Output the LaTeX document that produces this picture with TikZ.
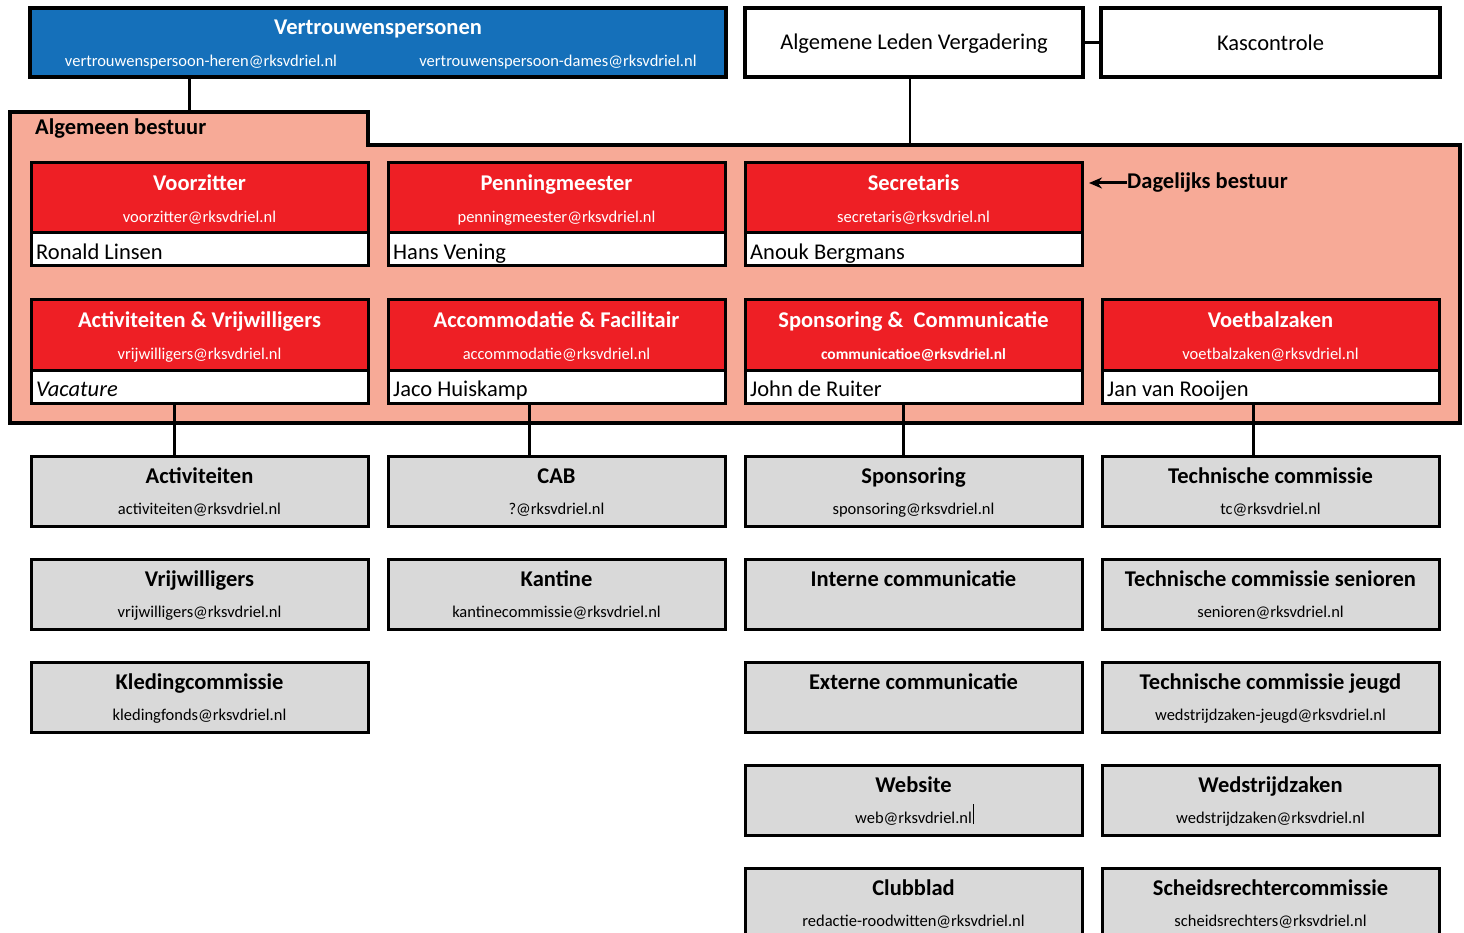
\documentclass[tikz,border=0pt]{standalone}
\usepackage{fontspec}
\setmainfont{Carlito}
\usetikzlibrary{arrows.meta}
\definecolor{vpblue}{HTML}{1570BA}
\definecolor{abred}{HTML}{EE1F25}
\definecolor{absalmon}{HTML}{F7AA97}
\definecolor{cgrey}{HTML}{D9D9D9}
\tikzset{
  box/.style={draw=black, line width=3pt, inner sep=0pt, outer sep=0pt, minimum width=337pt, anchor=north west},
  topbox/.style={draw=black, line width=4pt, inner sep=0pt, outer sep=0pt, anchor=north west, minimum height=69pt},
  redpart/.style={box, fill=abred, minimum height=70pt},
  namepart/.style={box, fill=white, minimum height=33pt},
  greypart/.style={box, fill=cgrey, minimum height=70pt},
  ttl/.style={font=\fontsize{22.5}{26}\selectfont\bfseries, anchor=base, inner sep=0pt},
  mail/.style={font=\fontsize{16.5}{20}\selectfont, anchor=base, inner sep=0pt},
  nm/.style={font=\fontsize{22.5}{26}\selectfont, anchor=base west, inner sep=0pt},
  conn/.style={line width=3pt},
}
\newcommand\rbox[6]{%
  \node[redpart] (#1) at (#2,#3) {};
  \node[namepart] (#1n) at (#2,#3+70) {};
  \node[ttl, text=white] (#1t) at ([yshift=-27.5pt]#1.north) {#4};
  \node[mail, text=white] (#1e) at ([yshift=-59.5pt]#1.north) {#5};
  \node[nm] (#1p) at ([xshift=5pt,yshift=-26.5pt]#1n.north west) {#6};
}
\newcommand\gbox[5]{%
  \node[greypart] (#1) at (#2,#3) {};
  \node[ttl] (#1t) at ([yshift=-27pt]#1.north) {#4};
  \node[mail] (#1e) at ([yshift=-58pt]#1.north) {#5};
}
\newcommand\gboxt[4]{%
  \node[greypart] (#1) at (#2,#3) {};
  \node[ttl] (#1t) at ([yshift=-27pt]#1.north) {#4};
}
\begin{document}
\begin{tikzpicture}[x=1pt,y=-1pt]
\useasboundingbox (0,0) rectangle (1464,933);
\clip (0,0) rectangle (1464,933);
\fill[white] (0,0) rectangle (1464,933);

% top row
\node[topbox, fill=vpblue, minimum width=696pt] (vp) at (30,8) {};
\node[ttl, text=white] (vpt) at ([yshift=-27pt]vp.north) {Vertrouwenspersonen};
\node[mail, text=white] (vpe1) at ([xshift=-177pt,yshift=-59pt]vp.north) {vertrouwenspersoon-heren@rksvdriel.nl};
\node[mail, text=white] (vpe2) at ([xshift=180pt,yshift=-59pt]vp.north) {vertrouwenspersoon-dames@rksvdriel.nl};

\node[topbox, fill=white, minimum width=338pt] (alv) at (745,8) {};
\node[nm, anchor=center] (alvt) at ([yshift=-1pt]alv.center) {Algemene Leden Vergadering};
\node[topbox, fill=white, minimum width=339pt] (kas) at (1101,8) {};
\node[nm, anchor=center] (kast) at (kas.center) {Kascontrole};
\draw[conn] (alv.east) -- (kas.west);

% algemeen bestuur area
\coordinate (ab1) at (10,112);
\coordinate (ab2) at (368,112);
\coordinate (ab3) at (368,145);
\coordinate (ab4) at (1460,145);
\coordinate (ab5) at (1460,423);
\coordinate (ab6) at (10,423);
\draw[line width=4pt, fill=absalmon] (ab1) -- (ab2) -- (ab3) -- (ab4) -- (ab5) -- (ab6) -- cycle;
\node[ttl, anchor=base west] (abt) at (35,135) {Algemeen bestuur};
\coordinate (abvp) at (189,112);
\coordinate (abalv) at (910,145);
\draw[conn] ([xshift=-189pt]vp.south) -- (abvp);
\draw[line width=2pt] ([xshift=-4pt]alv.south) -- (abalv);

% board members
\rbox{vz}{31}{163}{Voorzitter}{voorzitter@rksvdriel.nl}{Ronald Linsen}
\rbox{pm}{388}{163}{Penningmeester}{penningmeester@rksvdriel.nl}{Hans Vening}
\rbox{sc}{745}{163}{Secretaris}{secretaris@rksvdriel.nl}{Anouk Bergmans}
\rbox{av}{31}{300}{Activiteiten \& Vrijwilligers}{vrijwilligers@rksvdriel.nl}{\itshape Vacature}
\rbox{af}{388}{300}{Accommodatie \& Facilitair}{accommodatie@rksvdriel.nl}{Jaco Huiskamp}
\rbox{spc}{745}{300}{Sponsoring \& \ Communicatie}{\fontsize{15.5}{18}\selectfont\bfseries communicatioe@rksvdriel.nl}{John de Ruiter}
\rbox{vb}{1102}{300}{Voetbalzaken}{voetbalzaken@rksvdriel.nl}{Jan van Rooijen}

\node[ttl, anchor=west, inner sep=0pt] (db) at (1127,183) {Dagelijks bestuur};
\draw[line width=3pt, -{Stealth[length=13pt,width=11pt]}] (db.west) -- ([xshift=7pt]db.west -| sc.east);

% committees
\gbox{gact}{31}{456}{Activiteiten}{activiteiten@rksvdriel.nl}
\gbox{gvrij}{31}{559}{Vrijwilligers}{vrijwilligers@rksvdriel.nl}
\gbox{gkled}{31}{662}{Kledingcommissie}{kledingfonds@rksvdriel.nl}
\gbox{gcab}{388}{456}{CAB}{?@rksvdriel.nl}
\gbox{gkan}{388}{559}{Kantine}{kantinecommissie@rksvdriel.nl}
\gbox{gspo}{745}{456}{Sponsoring}{sponsoring@rksvdriel.nl}
\gboxt{gint}{745}{559}{Interne communicatie}
\gboxt{gext}{745}{662}{Externe communicatie}
\gbox{gweb}{745}{765}{Website}{web@rksvdriel.n\rlap{l\kern1pt\rule[-1pt]{1.2pt}{20pt}}\phantom{l}}
\gbox{gclub}{745}{868}{Clubblad}{redactie-roodwitten@rksvdriel.nl}
\gbox{gtc}{1102}{456}{Technische commissie}{tc@rksvdriel.nl}
\gbox{gtcs}{1102}{559}{Technische commissie senioren}{senioren@rksvdriel.nl}
\gbox{gtcj}{1102}{662}{Technische commissie jeugd}{wedstrijdzaken-jeugd@rksvdriel.nl}
\gbox{gwz}{1102}{765}{Wedstrijdzaken}{wedstrijdzaken@rksvdriel.nl}
\gbox{gsr}{1102}{868}{Scheidsrechtercommissie}{scheidsrechters@rksvdriel.nl}

% connectors
\draw[conn] ([xshift=-25.5pt]avn.south) -- ([xshift=-25.5pt]gact.north);
\draw[conn] ([xshift=-27.5pt]afn.south) -- ([xshift=-27.5pt]gcab.north);
\draw[conn] ([xshift=-10.5pt]spcn.south) -- ([xshift=-10.5pt]gspo.north);
\draw[conn] ([xshift=-17.5pt]vbn.south) -- ([xshift=-17.5pt]gtc.north);
\end{tikzpicture}
\end{document}
